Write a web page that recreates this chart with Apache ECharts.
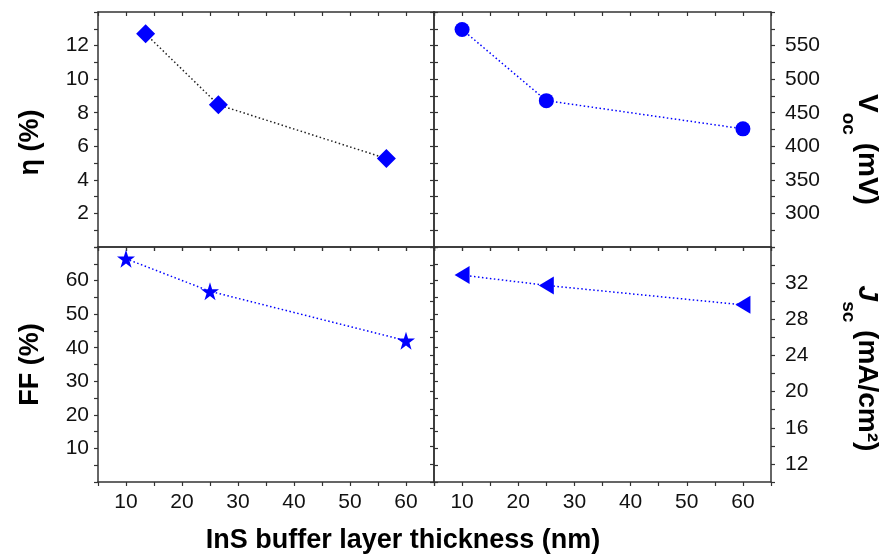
<!DOCTYPE html>
<html>
<head>
<meta charset="utf-8">
<script src="https://cdn.jsdelivr.net/npm/echarts@6/dist/echarts.min.js"></script>
<style>
  html, body { margin: 0; padding: 0; background: #fff; }
  #chart { width: 881px; height: 554px; }
</style>
</head>
<body>
<div id="chart"></div>
<script>
// thickness of the InS buffer layer (nm)
const thickness = [10, 25, 60];
const etaThickness = [13.5, 26.5, 56.5];
// cell parameters
const eta = [12.7, 8.47, 5.27];
const voc = [574, 468, 426];
const ff = [66.5, 56.8, 42.1];
const jsc = [32.9, 31.75, 29.6];

const xTicks = [10, 20, 30, 40, 50, 60];
const etaTicks = [2, 4, 6, 8, 10, 12];
const vocTicks = [300, 350, 400, 450, 500, 550];
const ffTicks = [10, 20, 30, 40, 50, 60];
const jscTicks = [12, 16, 20, 24, 28, 32];

const blue = '#0000ff';
const axisColor = '#333';
const font = 'Liberation Sans, Arial, sans-serif';

function pairs(xs, ys) {
  return xs.map((x, i) => [x, ys[i]]);
}
function only(list) {
  return v => (list.indexOf(Math.round(v * 100) / 100) >= 0 ? String(v) : '');
}

const lineStyle = { color: axisColor, width: 1.5 };
const tickStyle = { color: axisColor, width: 1.2 };
const labelStyle = { color: '#111', fontSize: 21, fontFamily: font };

function xAxes(g, labels) {
  const base = {
    type: 'value', gridIndex: g, min: 5, max: 65, interval: 5,
    axisLine: { onZero: false, lineStyle: lineStyle },
    splitLine: { show: false }
  };
  return [
    Object.assign({}, base, {
      position: 'bottom',
      axisTick: { length: 4, lineStyle: tickStyle },
      axisLabel: Object.assign({ show: labels, margin: 10, formatter: only(xTicks) }, labelStyle)
    }),
    Object.assign({}, base, {
      position: 'top',
      axisTick: { inside: true, length: 4, lineStyle: tickStyle },
      axisLabel: { show: false }
    })
  ];
}

function yAxes(g, min, max, interval, ticks, side, name, rich, pad) {
  const base = {
    type: 'value', gridIndex: g, min: min, max: max, interval: interval,
    axisLine: { onZero: false, lineStyle: lineStyle },
    axisTick: { length: 4, lineStyle: tickStyle },
    splitLine: { show: false }
  };
  const labelled = Object.assign({}, base, {
    position: side,
    axisLabel: Object.assign({ margin: side === 'left' ? 9 : 14, formatter: only(ticks) }, labelStyle),
    name: name,
    nameLocation: 'middle',
    nameRotate: side === 'left' ? 90 : -90,
    nameGap: side === 'left' ? 54 : 68,
    nameTextStyle: {
      color: '#000', fontFamily: font, fontSize: 27, fontWeight: 'bold',
      padding: pad || 0,
      rich: rich
    }
  });
  const plain = Object.assign({}, base, {
    position: side === 'left' ? 'right' : 'left',
    axisLabel: { show: false }
  });
  return side === 'left' ? [labelled, plain] : [plain, labelled];
}

const subRich = {
  b: { fontSize: 28, fontWeight: 'bold', fontFamily: font, color: '#000', verticalAlign: 'top', lineHeight: 30 },
  i: { fontSize: 28, fontWeight: 'bold', fontStyle: 'italic', fontFamily: font, color: '#000', verticalAlign: 'top', lineHeight: 30 },
  s: { fontSize: 19, fontWeight: 'bold', fontFamily: font, color: '#000', verticalAlign: 'bottom', lineHeight: 42 }
};

const star = 'path://M50,0 L61.2,34.5 L97.6,34.5 L68.2,55.9 L79.4,90.5 L50,69.1 L20.6,90.5 L31.8,55.9 L2.4,34.5 L38.8,34.5 Z';

const chart = echarts.init(document.getElementById('chart'), null, { renderer: 'canvas' });

const gridBase = { outerBoundsMode: 'none', containLabel: false };

const option = {
  animation: false,
  backgroundColor: '#fff',
  grid: [
    Object.assign({ left: 98, top: 12, width: 336, height: 235 }, gridBase),
    Object.assign({ left: 434, top: 12, width: 337, height: 235 }, gridBase),
    Object.assign({ left: 98, top: 247, width: 336, height: 235 }, gridBase),
    Object.assign({ left: 434, top: 247, width: 337, height: 235 }, gridBase)
  ],
  xAxis: [].concat(xAxes(0, false), xAxes(1, false), xAxes(2, true), xAxes(3, true)),
  yAxis: [].concat(
    yAxes(0, 0, 14, 1, etaTicks, 'left', 'η (%)', null, [0, 26, 0, 0]),
    yAxes(1, 250, 600, 25, vocTicks, 'right', '{b|V}{s|oc}{b| (mV)}', subRich, [0, 0, 0, 40]),
    yAxes(2, 0, 70, 5, ffTicks, 'left', 'FF (%)'),
    yAxes(3, 10, 36, 2, jscTicks, 'right', '{i|J}{s|sc}{b| (mA/cm²)}', subRich, [0, 0, 0, 8])
  ),
  graphic: [{
    type: 'text',
    x: 403, y: 541,
    style: {
      text: 'InS buffer layer thickness (nm)',
      fill: '#000',
      font: 'bold 27px ' + font,
      textAlign: 'center',
      textVerticalAlign: 'middle'
    }
  }],
  series: [
    {
      type: 'line', xAxisIndex: 0, yAxisIndex: 0,
      data: pairs(etaThickness, eta),
      symbol: 'diamond', symbolSize: 19,
      itemStyle: { color: blue },
      lineStyle: { color: '#222', width: 1.5, type: [1.5, 2.5] }
    },
    {
      type: 'line', xAxisIndex: 2, yAxisIndex: 3,
      data: pairs(thickness, voc),
      symbol: 'circle', symbolSize: 15,
      itemStyle: { color: blue },
      lineStyle: { color: blue, width: 1.5, type: [1.5, 2.5] }
    },
    {
      type: 'line', xAxisIndex: 4, yAxisIndex: 4,
      data: pairs(thickness, ff),
      symbol: star, symbolSize: 18,
      itemStyle: { color: blue },
      lineStyle: { color: blue, width: 1.5, type: [1.5, 2.5] }
    },
    {
      type: 'line', xAxisIndex: 6, yAxisIndex: 7,
      data: pairs(thickness, jsc),
      symbol: 'triangle', symbolSize: [18, 15], symbolRotate: 90,
      itemStyle: { color: blue },
      lineStyle: { color: blue, width: 1.5, type: [1.5, 2.5] }
    }
  ]
};

chart.setOption(option);
</script>
</body>
</html>
